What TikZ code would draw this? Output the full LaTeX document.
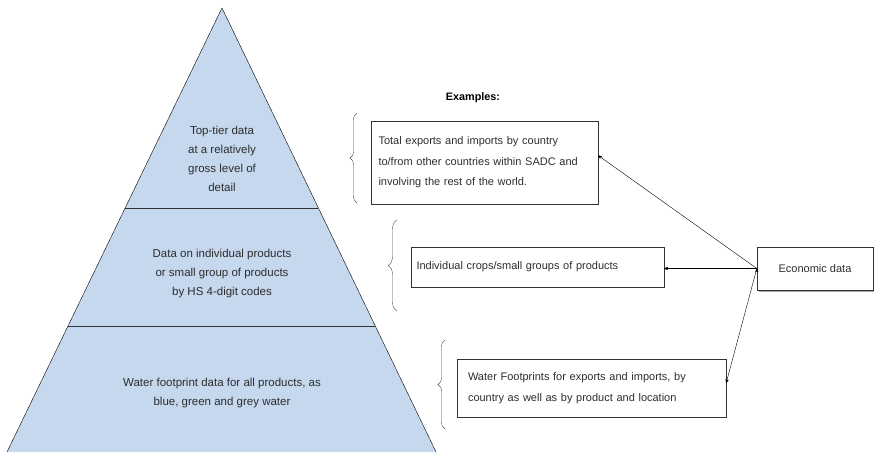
\documentclass[tikz,border=0pt]{standalone}
\usepackage{fontspec}
\setmainfont{Liberation Sans}
\usetikzlibrary{arrows,calc,shadows,decorations.pathreplacing}
\definecolor{pyrblue}{RGB}{198,216,238}
\definecolor{txtgray}{RGB}{45,45,45}

\begin{document}
\begin{tikzpicture}[x=1pt,y=-1pt,>=stealth',thin,
	tier text/.style={align=center,text=txtgray,font=\fontsize{11.5}{19}\selectfont},
	example box/.style={rectangle,draw=black!80,align=left,text=txtgray,
		font=\fontsize{11}{20.5}\selectfont,inner ysep=0pt},
	data box/.style={rectangle,draw=black!80,fill=white,text=txtgray,
		font=\fontsize{11}{13}\selectfont,minimum width=116pt,minimum height=43pt,
		drop shadow={shadow xshift=2pt,shadow yshift=-2pt,fill=gray!70,opacity=1}},
	tier brace/.style={draw=black!70,decorate,decoration={brace,amplitude=7pt}}]
	
	\useasboundingbox (0,0) rectangle (874,452);
	
	% pyramid
	\coordinate (apex) at (222,8);
	\coordinate (bl) at (7,452);
	\coordinate (br) at (436,452);
	\fill[pyrblue] (bl) -- (apex) -- (br) -- cycle;
	\draw[black] (bl) -- (apex) -- (br);
	\draw[black!80] ($(apex)!0.4505!(bl)$) -- ($(apex)!0.4505!(br)$);
	\draw[black!80] ($(apex)!0.7162!(bl)$) -- ($(apex)!0.7162!(br)$);
	
	\node[tier text] (top) at (222,159) {Top-tier data\\at a relatively\\gross level of\\detail};
	\node[tier text] (mid) at (222,274) {Data on individual products\\or small group of products\\by HS 4-digit codes};
	\node[tier text] (base) at (222,393) {Water footprint data for all products, as\\blue, green and grey water};
	
	% examples
	\node[font=\bfseries\fontsize{10.8}{13}\selectfont] (head) at (473,98) {Examples:};
	\node[example box,inner xsep=7.5pt,text width=212pt,minimum height=83pt] (box1) at (484.5,162.5)
		{Total exports and imports by country\\to/from other countries within SADC and\\involving the rest of the world.};
	\node[example box,inner xsep=5.5pt,text width=242pt,minimum height=40pt] (box2) at (537.5,267)
		{Individual crops/small groups of products};
	\node[example box,inner xsep=11pt,text width=247pt,minimum height=58pt,
		font=\fontsize{11}{21}\selectfont] (box3) at (591.5,388)
		{Water Footprints for exports and imports, by\\country as well as by product and location};
	\node[data box] (econ) at (815,268.5) {Economic data};
	
	% braces
	\draw[tier brace] (357,203) -- (357,113);
	\draw[tier brace,decoration={amplitude=9pt}] (397,311) -- (397,220);
	\draw[tier brace] (445,429) -- (445,340);
	
	% arrows
	\path[->,draw=black]
	(econ.west) edge ([yshift=7pt]box1.east)
	edge (econ.west -| box2.east)
	edge ([yshift=5pt]box3.east);
	
\end{tikzpicture}
\end{document}
